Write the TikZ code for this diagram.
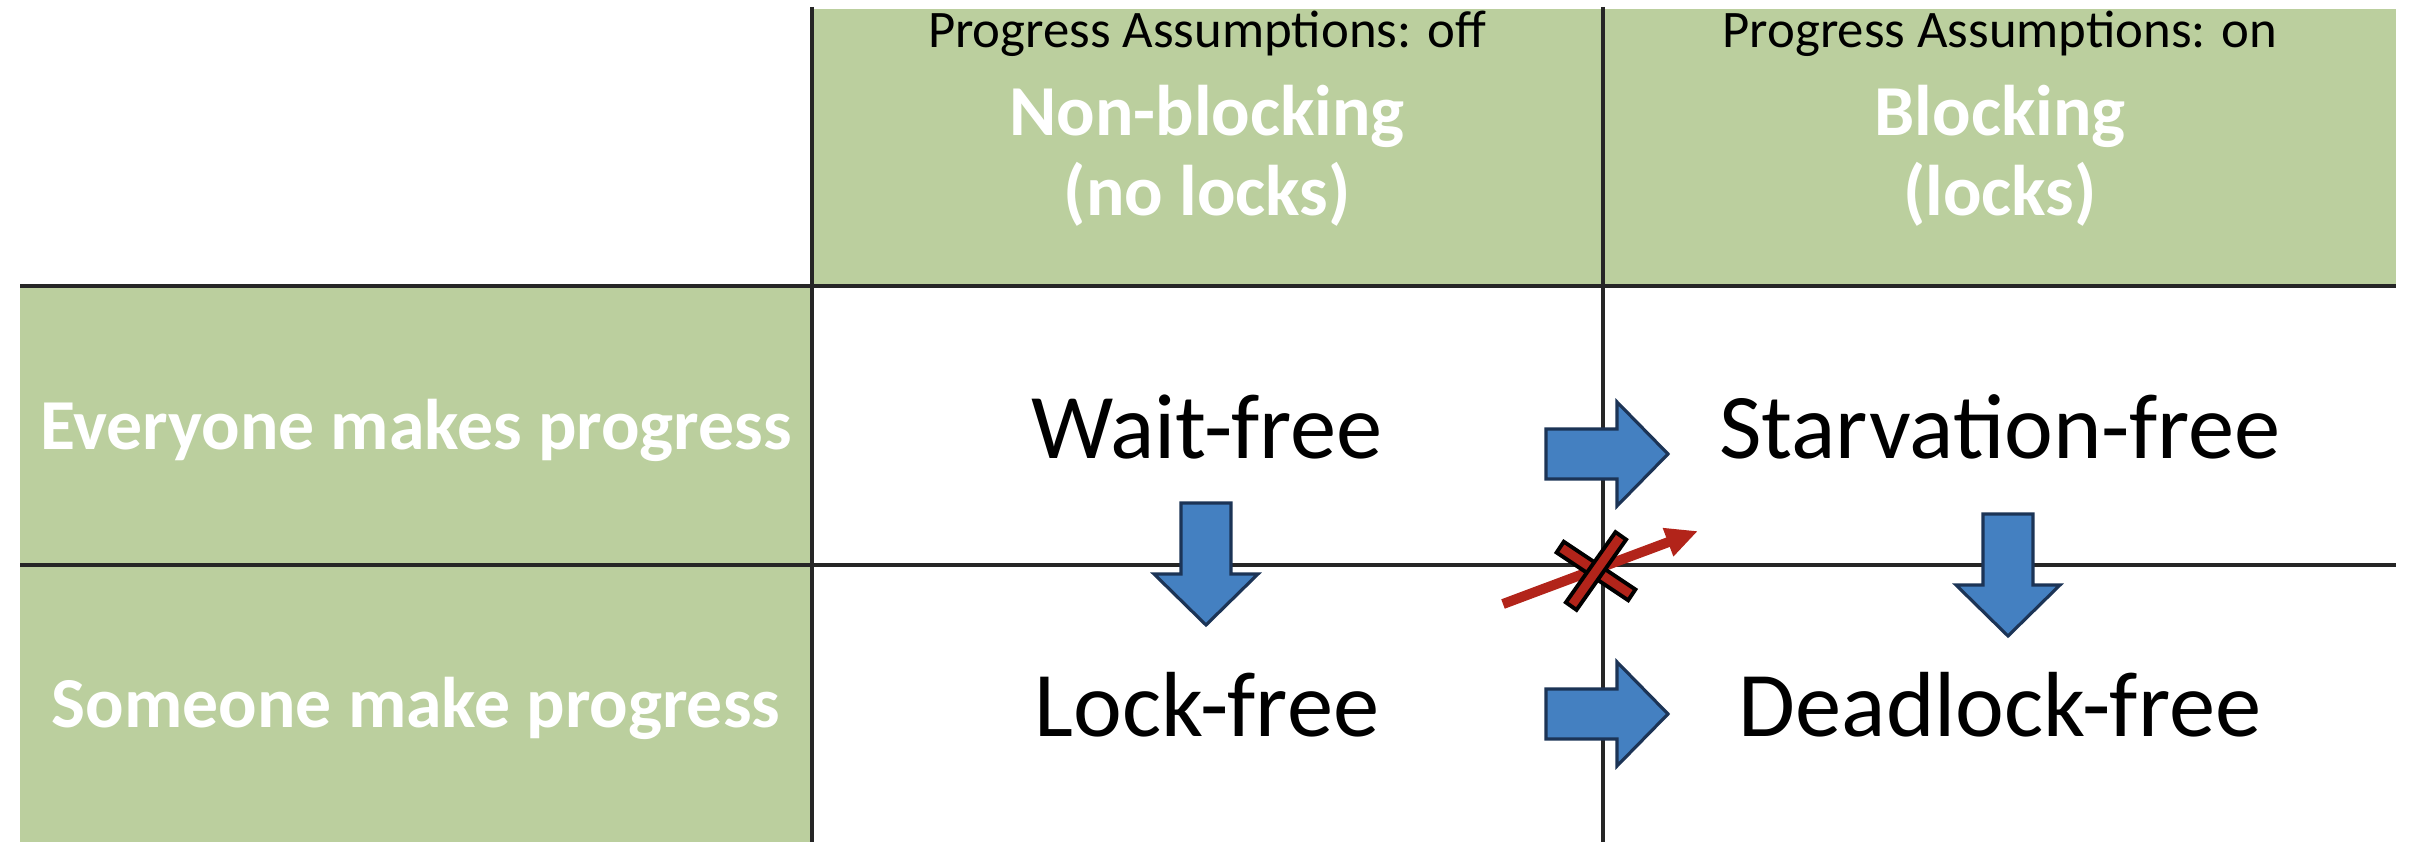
\documentclass[tikz,border=0pt]{standalone}
\usepackage{fontspec}
\setmainfont{Carlito}
\usetikzlibrary{arrows.meta, positioning}

\definecolor{cellgreen}{RGB}{187,207,158}
\definecolor{arrowblue}{RGB}{68,128,193}
\definecolor{arrowline}{RGB}{28,52,86}
\definecolor{crossred}{RGB}{178,36,26}

\begin{document}
\begin{tikzpicture} [x=0.01cm, y=-0.01cm,
            grid/.style = {draw=black!85, line width=1pt},
            small/.style = {font=\fontsize{15}{18}\selectfont, anchor=base},
            head/.style = {font=\fontsize{20.4}{24}\selectfont\bfseries,
                text=white, anchor=base},
            big/.style = {font=\fontsize{26.3}{31}\selectfont, anchor=base},
            crossbar/.style = {draw=black, fill=crossred, line width=1.1pt,
                minimum width=0.86cm, minimum height=0.13cm, inner sep=0pt},
            redarrow/.style = {draw=crossred, line width=0.1cm,
                -{Triangle[length=0.32cm, width=0.28cm]}},
            blockarrow/.pic = {
                \draw [fill=arrowblue, draw=arrowline, line width=0.9pt]
                    (-61,-25) -- (10,-25) -- (10,-52) -- (61,0)
                    -- (10,52) -- (10,25) -- (-61,25) -- cycle;
            }]
        
        \useasboundingbox (0,0) rectangle (2414,858);
        
        % Green cells
        \fill [cellgreen] (812,9) rectangle (2396,286);
        \fill [cellgreen] (20,286) rectangle (812,842);
        
        % Grid lines
        \draw [grid] (812,7) -- (812,842);
        \draw [grid] (1603,7) -- (1603,842);
        \draw [grid, line width=1.3pt] (20,286) -- (2396,286);
        \draw [grid] (20,565) -- (2396,565);
        
        % Column heads
        \node (offtxt) [small] at (1207,48) {Progress Assumptions: off};
        \node (nonblk) [head] at (1207,136) {Non-blocking};
        \node (nolocks) [head] at (1207,216) {(no locks)};
        
        \node (ontxt) [small] at (2000,48) {Progress Assumptions: on};
        \node (blk) [head] at (2000,136) {Blocking};
        \node (locks) [head] at (2000,216) {(locks)};
        
        % Row heads
        \node (every) [head] at (416,450) {Everyone makes progress};
        \node (some) [head] at (416,728) {Someone make progress};
        
        % Cells
        \node (waitfree) [big] at (1207,459) {Wait-free};
        \node (starvefree) [big] at (2000,459) {Starvation-free};
        \node (lockfree) [big] at (1207,736) {Lock-free};
        \node (deadfree) [big] at (2000,736) {Deadlock-free};
        
        % Block arrows
        \pic at (1607,454) {blockarrow};
        \pic at (1607,714) {blockarrow};
        \pic [rotate=-90] at (1206,564) {blockarrow};
        \pic [rotate=-90] at (2008,575) {blockarrow};
        
        % Crossed arrow
        \coordinate (rstart) at (1503,604);
        \coordinate (rend) at (1698,531);
        \draw [redarrow] (rstart) -- (rend);
        
        \node (bar1) [crossbar, rotate=-33.7] at (1596,571) {};
        \node (bar2) [crossbar, rotate=54.8] at (1596,571) {};
        \end{tikzpicture}
\end{document}
